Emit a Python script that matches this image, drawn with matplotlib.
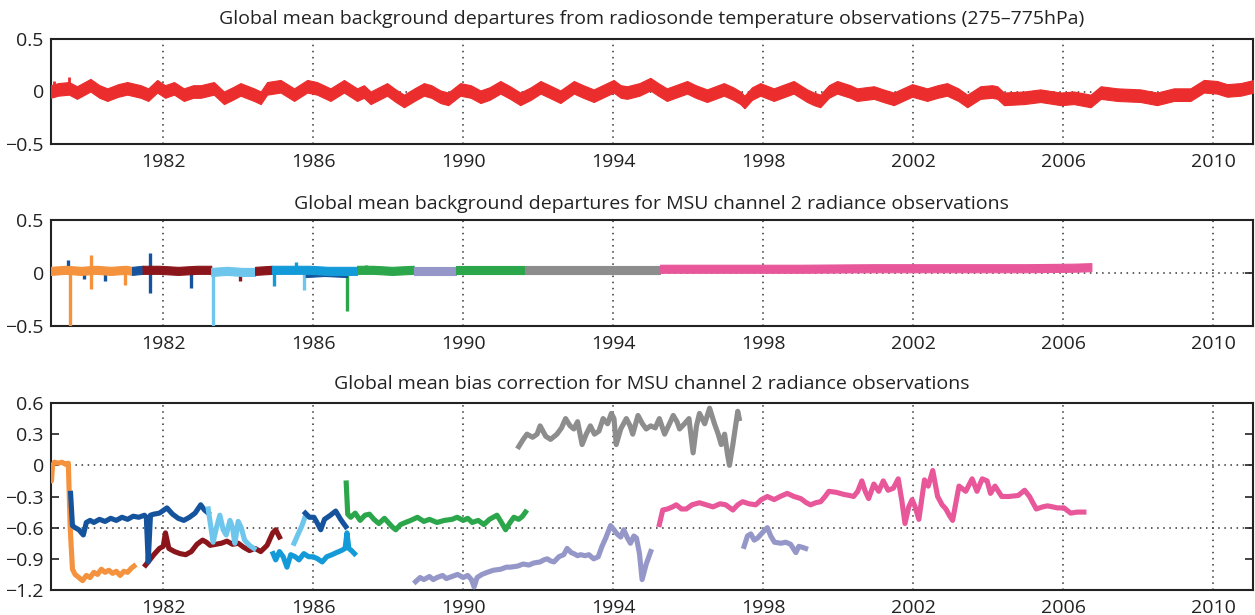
import numpy as np
import matplotlib
matplotlib.use('Agg')
import matplotlib.pyplot as plt

plt.rcParams['font.family'] = ['Open Sans', 'DejaVu Sans']

# colours of the different satellites / series
RED = '#ec2d2d'
ORANGE = '#f5923e'
DBLUE = '#15539c'
DRED = '#8a161b'
LBLUE = '#6ec6ec'
MBLUE = '#139ad8'
GREEN = '#2ba64a'
LAV = '#9697c9'
GRAY = '#8d8d8d'
PINK = '#e7579a'

xticks = [1982, 1986, 1990, 1994, 1998, 2002, 2006, 2010]

# ---------------------------------------------------------------------------
# Panel 1 - radiosonde departures (band centre)
sonde_yr = [1979.0, 1979.2, 1979.49, 1979.7, 1980.06, 1980.3, 1980.51, 1980.8, 1981.04, 1981.4,
            1981.6, 1981.84, 1982.05, 1982.29, 1982.55, 1982.8, 1983.0, 1983.35, 1983.62, 1983.85,
            1984.06, 1984.42, 1984.6, 1984.77, 1985.13, 1985.49, 1985.84, 1986.1, 1986.46, 1986.82,
            1987.17, 1987.35, 1987.53, 1987.97, 1988.2, 1988.42, 1988.7, 1988.95, 1989.15, 1989.39,
            1989.6, 1989.92, 1990.2, 1990.46, 1990.7, 1990.99, 1991.25, 1991.52, 1991.8, 1992.06,
            1992.3, 1992.59, 1992.95, 1993.2, 1993.48, 1994.01, 1994.2, 1994.37, 1994.7, 1994.99,
            1995.2, 1995.43, 1995.97, 1996.2, 1996.5, 1996.95, 1997.2, 1997.39, 1997.5, 1997.7,
            1997.92, 1998.28, 1998.81, 1999.17, 1999.35, 1999.52, 1999.75, 1999.97, 2000.32, 2000.5,
            2000.95, 2001.2, 2001.48, 2001.97, 2002.37, 2002.65, 2002.9, 2003.2, 2003.44, 2003.79,
            2004.1, 2004.24, 2004.42, 2004.95, 2005.39, 2005.93, 2006.28, 2006.73, 2007.0, 2007.44,
            2008.06, 2008.5, 2008.95, 2009.39, 2009.75, 2010.1, 2010.37, 2010.73, 2011.08]
sonde_v = [0.00, 0.02, 0.03, -0.01, 0.06, 0.00, -0.03, 0.01, 0.03, 0.00,
           -0.03, 0.05, 0.00, 0.03, -0.03, 0.00, 0.00, 0.03, -0.06, -0.02,
           0.02, -0.03, -0.06, 0.03, 0.05, -0.03, 0.05, 0.03, -0.03, 0.05,
           -0.03, 0.00, -0.06, 0.02, -0.04, -0.09, -0.03, 0.02, 0.00, -0.05,
           -0.07, 0.02, 0.00, -0.05, -0.02, 0.04, -0.01, -0.07, -0.02, 0.04,
           0.00, -0.05, 0.04, 0.00, -0.04, 0.05, 0.00, -0.01, 0.02, 0.07,
           0.02, -0.03, 0.04, 0.00, -0.04, 0.02, -0.02, -0.06, -0.10, -0.02,
           0.02, -0.03, 0.04, -0.04, -0.07, -0.09, 0.00, 0.04, 0.00, -0.03,
           -0.01, -0.04, -0.07, 0.01, -0.03, 0.00, 0.02, -0.03, -0.09, -0.01,
           0.00, -0.01, -0.07, -0.06, -0.04, -0.07, -0.06, -0.09, -0.01, -0.03,
           -0.04, -0.07, -0.03, -0.03, 0.05, 0.04, 0.01, 0.02, 0.05]
sonde_spike_yr = [1979.1, 1979.49]
sonde_spike_hi = [0.10, 0.14]

# ---------------------------------------------------------------------------
# Panel 2 - MSU background departures (band centre for each satellite)
bg_orange_yr = [1979.0, 1979.4, 1979.8, 1980.2, 1980.6, 1981.0, 1981.17]
bg_orange_v = [0.02, 0.03, 0.02, 0.03, 0.02, 0.03, 0.02]
bg_dblue1_yr = [1981.17, 1981.45]
bg_dblue1_v = [0.02, 0.03]
bg_dblue2_yr = [1985.8, 1986.3, 1986.9]
bg_dblue2_v = [0.0, 0.01, 0.0]
bg_dred1_yr = [1981.45, 1981.9, 1982.4, 1982.9, 1983.28]
bg_dred1_v = [0.03, 0.03, 0.02, 0.03, 0.03]
bg_dred2_yr = [1984.45, 1984.9]
bg_dred2_v = [0.02, 0.03]
bg_lblue_yr = [1983.28, 1983.7, 1984.1, 1984.45]
bg_lblue_v = [0.01, 0.02, 0.01, 0.01]
bg_mblue_yr = [1984.9, 1985.4, 1985.9, 1986.4, 1986.9, 1987.17]
bg_mblue_v = [0.03, 0.03, 0.03, 0.02, 0.02, 0.02]
bg_green1_yr = [1987.17, 1987.6, 1988.1, 1988.68]
bg_green1_v = [0.03, 0.03, 0.02, 0.03]
bg_lav_yr = [1988.68, 1989.2, 1989.8]
bg_lav_v = [0.02, 0.02, 0.02]
bg_green2_yr = [1989.8, 1990.4, 1991.0, 1991.65]
bg_green2_v = [0.03, 0.03, 0.03, 0.03]
bg_gray_yr = [1991.65, 1992.5, 1993.5, 1994.5, 1995.25]
bg_gray_v = [0.03, 0.03, 0.03, 0.03, 0.03]
bg_pink_yr = [1995.25, 1997.0, 1999.0, 2001.0, 2003.0, 2005.0, 2006.3, 2006.75]
bg_pink_v = [0.04, 0.04, 0.04, 0.045, 0.045, 0.045, 0.05, 0.055]

# isolated spikes (year, lowest, highest)
spike_yr = [1979.51, 1980.08, 1980.99, 1979.45, 1979.88, 1980.46, 1981.66, 1982.73,
            1984.06, 1983.32, 1985.75, 1984.95, 1985.53, 1986.89, 1987.4]
spike_lo = [-0.50, -0.15, -0.11, 0.00, -0.06, -0.08, -0.19, -0.14,
            -0.08, -0.50, -0.16, -0.12, 0.00, -0.36, 0.00]
spike_hi = [0.00, 0.17, 0.02, 0.12, 0.02, 0.02, 0.19, 0.00,
            0.00, 0.00, 0.00, 0.00, 0.10, 0.00, 0.08]
spike_col = [ORANGE, ORANGE, ORANGE, DBLUE, DBLUE, DBLUE, DBLUE, DBLUE,
             DRED, LBLUE, LBLUE, MBLUE, MBLUE, GREEN, GREEN]

# ---------------------------------------------------------------------------
# Panel 3 - bias correction
orange_yr = [1979.00, 1979.02, 1979.05, 1979.10, 1979.20, 1979.30, 1979.40, 1979.47, 1979.52, 1979.58,
             1979.65, 1979.75, 1979.85, 1979.95, 1980.05, 1980.15, 1980.25, 1980.35, 1980.45, 1980.55,
             1980.65, 1980.75, 1980.85, 1980.95, 1981.05, 1981.15, 1981.22]
orange_v = [-0.05, -0.15, 0.00, 0.03, 0.02, 0.03, 0.01, 0.02, -0.60, -1.00,
            -1.05, -1.08, -1.11, -1.06, -1.08, -1.03, -1.05, -1.00, -1.03, -1.01,
            -1.04, -1.02, -1.06, -1.02, -1.03, -0.99, -0.97]

dred_yr = [1981.53, 1981.62, 1981.75, 1981.9, 1982.0, 1982.06, 1982.15, 1982.3, 1982.45, 1982.6,
           1982.75, 1982.9, 1983.05, 1983.15, 1983.25, 1983.4, 1983.55, 1983.7, 1983.85, 1984.0,
           1984.15, 1984.3, 1984.45, 1984.6, 1984.77, 1984.92, 1985.0, 1985.1]
dred_v = [-0.96, -0.92, -0.86, -0.80, -0.78, -0.65, -0.80, -0.83, -0.85, -0.86,
          -0.83, -0.76, -0.72, -0.74, -0.77, -0.76, -0.75, -0.73, -0.76, -0.75,
          -0.79, -0.82, -0.80, -0.83, -0.77, -0.65, -0.62, -0.69]

dblue1_yr = [1979.53, 1979.58, 1979.65, 1979.75, 1979.87, 1979.95, 1980.05, 1980.15, 1980.3, 1980.45,
             1980.6, 1980.75, 1980.9, 1981.05, 1981.2, 1981.35, 1981.5, 1981.55, 1981.6, 1981.66,
             1981.75, 1981.9, 1982.1, 1982.25, 1982.4, 1982.55, 1982.7, 1982.85, 1983.0, 1983.1,
             1983.2]
dblue1_v = [-0.27, -0.58, -0.60, -0.62, -0.67, -0.55, -0.53, -0.55, -0.52, -0.54,
            -0.51, -0.53, -0.50, -0.52, -0.49, -0.50, -0.48, -0.50, -0.93, -0.48,
            -0.47, -0.46, -0.41, -0.47, -0.51, -0.53, -0.50, -0.46, -0.38, -0.43,
            -0.46]
dblue2_yr = [1985.79, 1985.9, 1986.02, 1986.1, 1986.2, 1986.3, 1986.46, 1986.6, 1986.73, 1986.87]
dblue2_v = [-0.46, -0.50, -0.50, -0.55, -0.62, -0.52, -0.48, -0.44, -0.52, -0.59]

lblue1_yr = [1983.20, 1983.33, 1983.42, 1983.51, 1983.60, 1983.68, 1983.78, 1983.85, 1983.91, 1984.00,
             1984.08, 1984.17, 1984.30, 1984.42]
lblue1_v = [-0.42, -0.74, -0.60, -0.48, -0.62, -0.67, -0.53, -0.60, -0.75, -0.54,
            -0.60, -0.72, -0.77, -0.80]
lblue2_yr = [1985.49, 1985.6, 1985.7, 1985.79]
lblue2_v = [-0.75, -0.66, -0.58, -0.49]

mblue_yr = [1984.93, 1985.0, 1985.1, 1985.2, 1985.3, 1985.4, 1985.52, 1985.62, 1985.75, 1985.88,
            1986.0, 1986.12, 1986.24, 1986.36, 1986.5, 1986.62, 1986.75, 1986.85, 1986.9, 1986.95,
            1987.02, 1987.1]
mblue_v = [-0.85, -0.91, -0.83, -0.88, -0.98, -0.86, -0.88, -0.91, -0.85, -0.88,
           -0.88, -0.90, -0.93, -0.88, -0.86, -0.84, -0.82, -0.80, -0.65, -0.80,
           -0.82, -0.85]

green_yr = [1986.88, 1986.92, 1987.0, 1987.12, 1987.25, 1987.38, 1987.5, 1987.62, 1987.75, 1987.9,
            1988.1, 1988.2, 1988.33, 1988.46, 1988.6, 1988.78, 1988.95, 1989.1, 1989.3, 1989.5,
            1989.7, 1989.84, 1990.0, 1990.12, 1990.24, 1990.4, 1990.55, 1990.7, 1990.9, 1991.02,
            1991.13, 1991.25, 1991.35, 1991.48, 1991.58, 1991.66]
green_v = [-0.17, -0.47, -0.50, -0.46, -0.53, -0.48, -0.47, -0.52, -0.56, -0.51,
           -0.59, -0.62, -0.57, -0.55, -0.53, -0.50, -0.54, -0.52, -0.55, -0.53,
           -0.52, -0.50, -0.53, -0.51, -0.55, -0.53, -0.57, -0.52, -0.48, -0.55,
           -0.62, -0.55, -0.50, -0.52, -0.49, -0.45]

lav1_yr = [1988.73, 1988.85, 1988.95, 1989.1, 1989.2, 1989.3, 1989.45, 1989.55, 1989.7, 1989.85,
           1990.0, 1990.12, 1990.22, 1990.29, 1990.37, 1990.5, 1990.64, 1990.8, 1991.0, 1991.15,
           1991.26, 1991.45, 1991.6, 1991.75, 1991.88, 1992.05, 1992.15, 1992.24, 1992.33, 1992.42,
           1992.55, 1992.68, 1992.77, 1992.88, 1992.95, 1993.05, 1993.13, 1993.25, 1993.35, 1993.48,
           1993.6, 1993.7, 1993.8, 1993.93, 1994.02, 1994.1, 1994.2, 1994.28, 1994.38, 1994.46,
           1994.55, 1994.62, 1994.7, 1994.77, 1994.88, 1995.0]
lav1_v = [-1.12, -1.08, -1.10, -1.07, -1.10, -1.08, -1.06, -1.09, -1.07, -1.05,
          -1.08, -1.06, -1.10, -1.17, -1.08, -1.05, -1.03, -1.01, -1.00, -0.98,
          -0.98, -0.97, -0.95, -0.96, -0.94, -0.93, -0.91, -0.90, -0.92, -0.93,
          -0.88, -0.86, -0.80, -0.84, -0.85, -0.87, -0.86, -0.87, -0.86, -0.90,
          -0.88, -0.78, -0.70, -0.58, -0.62, -0.66, -0.69, -0.62, -0.70, -0.75,
          -0.68, -0.70, -0.85, -1.10, -0.95, -0.83]
lav2_yr = [1997.49, 1997.58, 1997.67, 1997.76, 1997.85, 1997.95, 1998.05, 1998.11, 1998.2, 1998.3,
           1998.47, 1998.6, 1998.73, 1998.8, 1998.87, 1998.95, 1999.05, 1999.13]
lav2_v = [-0.78, -0.68, -0.66, -0.72, -0.70, -0.66, -0.62, -0.60, -0.68, -0.74,
          -0.75, -0.74, -0.76, -0.80, -0.84, -0.78, -0.79, -0.80]

gray_yr = [1991.48, 1991.6, 1991.7, 1991.85, 1991.97, 1992.05, 1992.2, 1992.33, 1992.5, 1992.62,
           1992.73, 1992.85, 1992.95, 1993.05, 1993.17, 1993.28, 1993.39, 1993.5, 1993.62, 1993.73,
           1993.85, 1993.95, 1994.02, 1994.08, 1994.2, 1994.35, 1994.45, 1994.52, 1994.66, 1994.78,
           1994.88, 1995.0, 1995.12, 1995.23, 1995.37, 1995.5, 1995.6, 1995.7, 1995.77, 1995.9,
           1996.02, 1996.13, 1996.22, 1996.3, 1996.44, 1996.57, 1996.7, 1996.8, 1996.88, 1996.97,
           1997.05, 1997.1, 1997.19, 1997.32, 1997.36]
gray_v = [0.18, 0.25, 0.30, 0.27, 0.30, 0.38, 0.28, 0.25, 0.30, 0.36,
          0.45, 0.38, 0.35, 0.42, 0.20, 0.30, 0.38, 0.30, 0.33, 0.45,
          0.40, 0.50, 0.45, 0.20, 0.35, 0.45, 0.38, 0.30, 0.48, 0.40,
          0.35, 0.38, 0.36, 0.45, 0.30, 0.40, 0.48, 0.42, 0.35, 0.40,
          0.45, 0.12, 0.38, 0.50, 0.40, 0.55, 0.40, 0.30, 0.20, 0.30,
          0.10, 0.00, 0.20, 0.52, 0.45]

pink_yr = [1995.23, 1995.32, 1995.45, 1995.58, 1995.68, 1995.82, 1995.95, 1996.1, 1996.3, 1996.48,
           1996.66, 1996.85, 1997.0, 1997.19, 1997.32, 1997.45, 1997.62, 1997.8, 1997.95, 1998.11,
           1998.29, 1998.45, 1998.64, 1998.82, 1999.0, 1999.15, 1999.26, 1999.4, 1999.53, 1999.65,
           1999.75, 1999.95, 2000.15, 2000.3, 2000.41, 2000.52, 2000.63, 2000.72, 2000.81, 2000.95,
           2001.08, 2001.2, 2001.33, 2001.47, 2001.6, 2001.7, 2001.78, 2001.88, 2001.97, 2002.05,
           2002.15, 2002.3, 2002.4, 2002.52, 2002.65, 2002.77, 2002.87, 2002.96, 2003.05, 2003.22,
           2003.4, 2003.57, 2003.7, 2003.84, 2003.97, 2004.06, 2004.18, 2004.36, 2004.55, 2004.8,
           2004.97, 2005.1, 2005.28, 2005.45, 2005.58, 2005.72, 2005.85, 2006.02, 2006.2, 2006.37,
           2006.55]
pink_v = [-0.57, -0.43, -0.42, -0.40, -0.38, -0.42, -0.42, -0.38, -0.36, -0.38,
          -0.40, -0.37, -0.38, -0.43, -0.38, -0.35, -0.37, -0.38, -0.33, -0.30,
          -0.33, -0.30, -0.27, -0.30, -0.32, -0.36, -0.38, -0.36, -0.35, -0.30,
          -0.25, -0.26, -0.28, -0.29, -0.30, -0.25, -0.15, -0.25, -0.32, -0.18,
          -0.25, -0.15, -0.24, -0.22, -0.13, -0.35, -0.56, -0.40, -0.33, -0.40,
          -0.52, -0.14, -0.20, -0.05, -0.30, -0.38, -0.42, -0.48, -0.53, -0.20,
          -0.25, -0.13, -0.25, -0.13, -0.15, -0.27, -0.20, -0.30, -0.30, -0.29,
          -0.24, -0.30, -0.42, -0.40, -0.39, -0.40, -0.41, -0.41, -0.46, -0.45,
          -0.45]

titles = ['Global mean background departures from radiosonde temperature observations (275\u2013775hPa)',
          'Global mean background departures for MSU channel 2 radiance observations',
          'Global mean bias correction for MSU channel 2 radiance observations']


# ---------------------------------------------------------------------------
# figure and axes placed in pixel coordinates
W, H = 1255, 615
fig = plt.figure(figsize=(W / 100, H / 100), dpi=100)


def px_axes(left, top, right, bottom):
    return fig.add_axes([left / W, 1 - bottom / H, (right - left) / W, (bottom - top) / H])


ax1 = px_axes(50.7, 39, 1253, 144)
ax2 = px_axes(50.7, 220, 1253, 326)
ax3 = px_axes(50.7, 403, 1253, 590)

DOT = (0, (1, 3))
FS = 14


def style_axes(ax, yticks, ylabels, ylim, hlines):
    ax.set_xlim(1979.0, 2011.06)
    ax.set_ylim(*ylim)
    ax.set_xticks(xticks)
    ax.set_xticklabels([str(t) for t in xticks])
    ax.set_yticks(yticks)
    ax.set_yticklabels(ylabels)
    ax.tick_params(axis='y', direction='in', length=6, width=1.2, left=True, right=True,
                   labelsize=FS, pad=5.0, colors='#222222')
    ax.tick_params(axis='x', length=0, labelsize=FS, pad=6.5, colors='#222222')
    for s in ax.spines.values():
        s.set_linewidth(1.5)
        s.set_color('#222222')
    for x in xticks:
        ax.axvline(x, color='#333333', linestyle=DOT, linewidth=1.1, zorder=1)
    for y in hlines:
        ax.axhline(y, color='#333333', linestyle=DOT, linewidth=1.1, zorder=1)


# Panel 1
style_axes(ax1, [-0.5, 0, 0.5], ['\u22120.5', '0', '0.5'], (-0.5, 0.5), [0])
c = np.array(sonde_v)
ax1.fill_between(sonde_yr, c - 0.06, c + 0.06, color=RED, linewidth=0.8, edgecolor=RED, zorder=3)
ax1.vlines(sonde_spike_yr, 0.0, sonde_spike_hi, color=RED, linewidth=2, zorder=3)

# Panel 2
style_axes(ax2, [-0.5, 0, 0.5], ['\u22120.5', '0', '0.5'], (-0.5, 0.5), [0])
bands = [(bg_orange_yr, bg_orange_v, ORANGE), (bg_dblue1_yr, bg_dblue1_v, DBLUE),
         (bg_dred1_yr, bg_dred1_v, DRED), (bg_lblue_yr, bg_lblue_v, LBLUE),
         (bg_dred2_yr, bg_dred2_v, DRED), (bg_dblue2_yr, bg_dblue2_v, DBLUE),
         (bg_mblue_yr, bg_mblue_v, MBLUE), (bg_green1_yr, bg_green1_v, GREEN),
         (bg_lav_yr, bg_lav_v, LAV), (bg_green2_yr, bg_green2_v, GREEN),
         (bg_gray_yr, bg_gray_v, GRAY), (bg_pink_yr, bg_pink_v, PINK)]
ax2.vlines(spike_yr, spike_lo, spike_hi, colors=spike_col, linewidth=2.4, zorder=3)
for yr, v, col in bands:
    v = np.array(v)
    ax2.fill_between(yr, v - 0.038, v + 0.038, color=col, edgecolor=col, linewidth=0.8, zorder=4)

# Panel 3
style_axes(ax3, [0.6, 0.3, 0, -0.3, -0.6, -0.9, -1.2],
           ['0.6', '0.3', '0', '\u22120.3', '\u22120.6', '\u22120.9', '\u22121.2'],
           (-1.2, 0.6), [0, -0.6])
lines = [(orange_yr, orange_v, ORANGE), (dred_yr, dred_v, DRED),
         (dblue1_yr, dblue1_v, DBLUE), (lblue1_yr, lblue1_v, LBLUE),
         (mblue_yr, mblue_v, MBLUE), (lblue2_yr, lblue2_v, LBLUE),
         (dblue2_yr, dblue2_v, DBLUE), (green_yr, green_v, GREEN),
         (lav1_yr, lav1_v, LAV), (lav2_yr, lav2_v, LAV),
         (gray_yr, gray_v, GRAY), (pink_yr, pink_v, PINK)]
for yr, v, col in lines:
    ax3.plot(yr, v, color=col, linewidth=3.7, solid_joinstyle='round', zorder=3)

# Titles centred over the axes
xc = (50.7 + 1253) / 2 / W
for ytitle, t in zip([19, 204, 384], titles):
    fig.text(xc, 1 - ytitle / H, t, ha='center', va='center', fontsize=FS, color='#222222')

fig.savefig('out.png', dpi=100)
